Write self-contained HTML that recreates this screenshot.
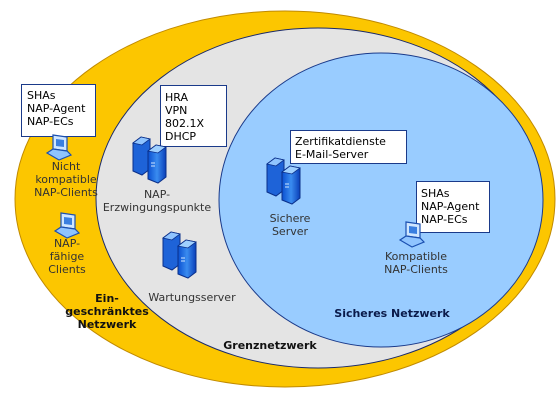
<!DOCTYPE html>
<html><head><meta charset="utf-8"><style>
html,body{margin:0;padding:0;background:#fff;}
svg{display:block;font-family:"DejaVu Sans","Liberation Sans",sans-serif;}
</style></head><body>
<svg width="558" height="409" viewBox="0 0 558 409" xmlns="http://www.w3.org/2000/svg">
<defs>
<linearGradient id="sg" x1="0" y1="0" x2="1" y2="0"><stop offset="0" stop-color="#0a4fd0"/><stop offset="0.5" stop-color="#3a8cf0"/><stop offset="1" stop-color="#0a3fb8"/></linearGradient>
<g id="srv">
<path d="M0 6 L8 0 L17 2 L17 32 L9 38 L0 34 Z" fill="#1e63d8" stroke="#0a2f8a" stroke-width="1"/>
<path d="M0 6 L8 0 L17 2 L9 8 Z" fill="#8fc4ff" stroke="#0a2f8a" stroke-width="0.8"/>
<path d="M15 14 L23 8 L33 10 L33 40 L25 46 L15 42 Z" fill="url(#sg)" stroke="#0a2f8a" stroke-width="1"/>
<path d="M15 14 L23 8 L33 10 L25 16 Z" fill="#9fd0ff" stroke="#0a2f8a" stroke-width="0.8"/>
<line x1="18" y1="26" x2="22" y2="26" stroke="#cfe6ff"/>
<line x1="18" y1="29" x2="22" y2="29" stroke="#cfe6ff"/>
</g>
<g id="lap">
<path d="M6 0 L20 2 L20 16 L6 14 Z" fill="#cfe6ff" stroke="#1a4fb0" stroke-width="1.2"/>
<path d="M9 4 L17 5 L17 12 L9 11 Z" fill="#3a7fe0"/>
<path d="M0 18 L6 14 L20 16 L24 20 L12 25 Z" fill="#8fc4ff" stroke="#1a4fb0" stroke-width="1.2"/>
</g>
</defs>
<ellipse cx="285" cy="199" rx="270" ry="188" fill="#fcc600" stroke="#c08a00" stroke-width="1"/>
<ellipse cx="318" cy="198" rx="222" ry="170" fill="#e4e4e4" stroke="#1a2a6a" stroke-width="1"/>
<ellipse cx="381" cy="200" rx="162" ry="147" fill="#99ccff" stroke="#1a3a8a" stroke-width="1"/>

<g font-size="11" fill="#000">
<rect x="21.5" y="84.5" width="74" height="52" fill="#fff" stroke="#1a3a8a"/>
<text x="27" y="99">SHAs</text><text x="27" y="112">NAP-Agent</text><text x="27" y="125">NAP-ECs</text>
<rect x="160.5" y="85.5" width="66" height="61" fill="#fff" stroke="#1a3a8a"/>
<text x="165" y="101">HRA</text><text x="165" y="114">VPN</text><text x="165" y="127">802.1X</text><text x="165" y="140">DHCP</text>
<rect x="290.5" y="130.5" width="116" height="33" fill="#fff" stroke="#1a3a8a"/>
<text x="295" y="145">Zertifikatdienste</text><text x="295" y="158">E-Mail-Server</text>
<rect x="416.5" y="181.5" width="73" height="51" fill="#fff" stroke="#1a3a8a"/>
<text x="421" y="197">SHAs</text><text x="421" y="210">NAP-Agent</text><text x="421" y="223">NAP-ECs</text>
</g>

<use href="#lap" x="47" y="135"/>
<use href="#lap" x="55" y="213"/>
<use href="#lap" x="400" y="222"/>
<use href="#srv" x="133" y="137"/>
<use href="#srv" x="163" y="232"/>
<use href="#srv" x="267" y="158"/>

<g font-size="11" fill="#333" text-anchor="middle">
<text x="66" y="170">Nicht</text><text x="66" y="183">kompatible</text><text x="66" y="196">NAP-Clients</text>
<text x="67" y="247">NAP-</text><text x="67" y="260">fähige</text><text x="67" y="273">Clients</text>
<text x="157" y="198">NAP-</text><text x="157" y="211">Erzwingungspunkte</text>
<text x="192" y="301">Wartungsserver</text>
<text x="290" y="222">Sichere</text><text x="290" y="235">Server</text>
<text x="416" y="260">Kompatible</text><text x="416" y="273">NAP-Clients</text>
</g>
<g font-size="11" font-weight="bold" fill="#111" text-anchor="middle">
<text x="107" y="302">Ein-</text><text x="107" y="315">geschränktes</text><text x="107" y="328">Netzwerk</text>
<text x="270" y="349">Grenznetzwerk</text>
<text x="392" y="317" fill="#0a1a4a">Sicheres Netzwerk</text>
</g>
</svg>
</body></html>
